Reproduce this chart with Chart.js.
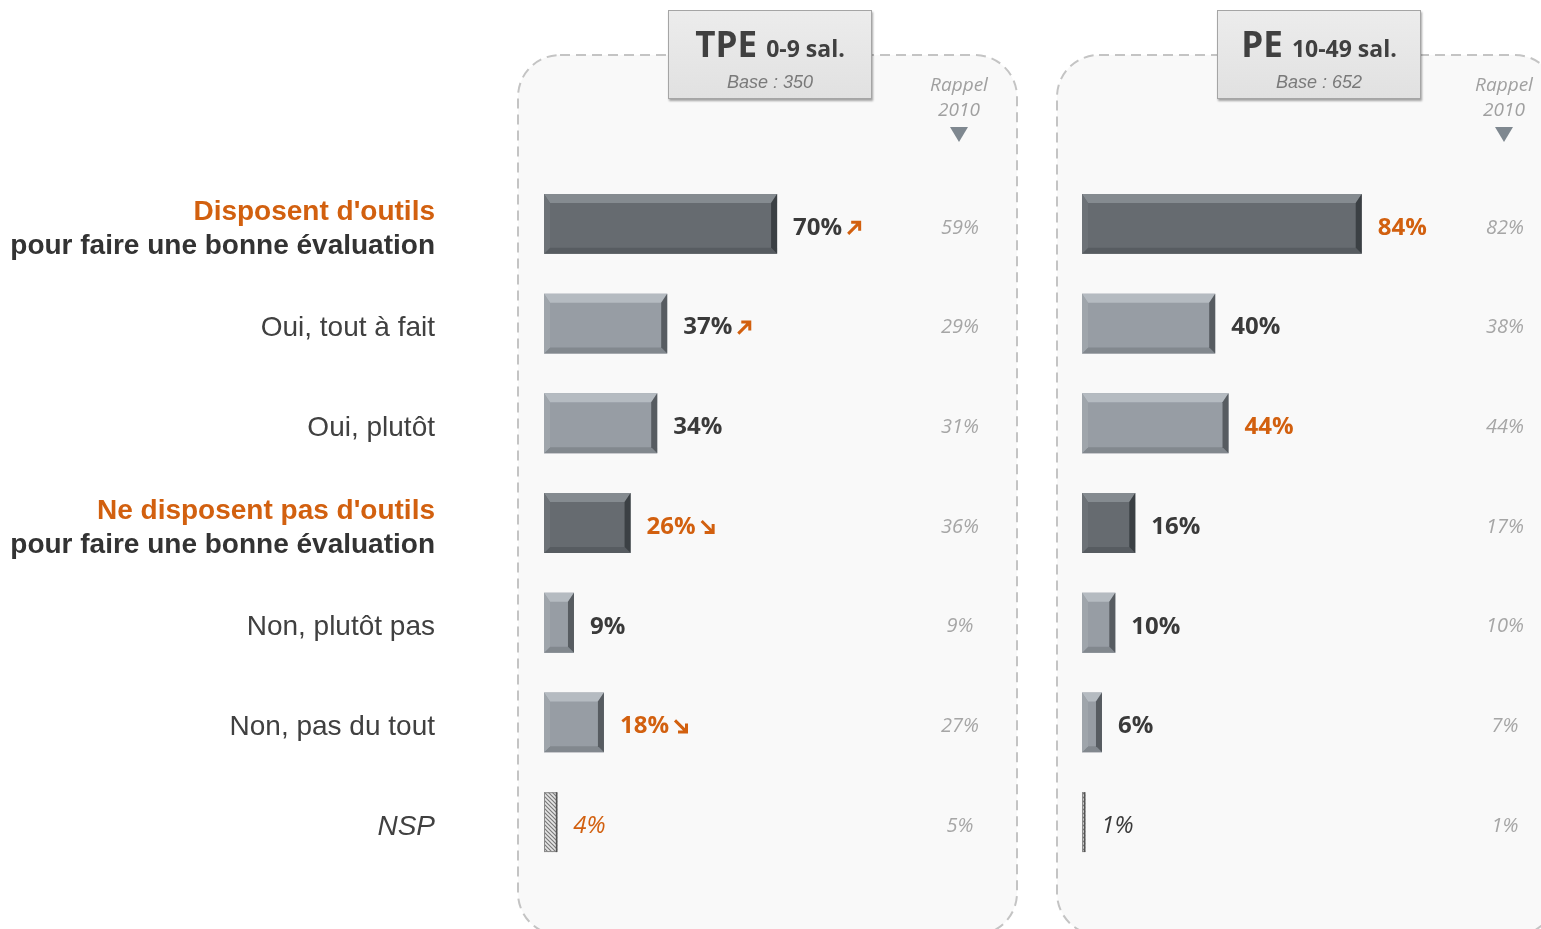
<!DOCTYPE html>
<html><head><meta charset="utf-8">
<script src="https://cdn.jsdelivr.net/npm/chart.js@4/dist/chart.umd.min.js"></script>
<style>
html,body{margin:0;padding:0;background:#fff;width:1541px;height:929px;overflow:hidden;position:relative;font-family:"Liberation Sans",Arial,sans-serif}
canvas{position:absolute;top:0}
#cL{left:0}
#cR{left:1030px}
.hdr{position:absolute;top:10px;width:202px;height:87px;background:linear-gradient(#ececec,#e1e1e1);border:1px solid #a5a5a5;box-shadow:1px 2px 2px rgba(0,0,0,0.35);text-align:center;z-index:2}
.hdr .t{position:absolute;left:0;right:0;top:13px;font-family:"Open Sans";font-weight:bold;color:#404040;font-size:35px;line-height:40px;white-space:nowrap}
.hdr .t span{font-size:23px}
.hdr .b{position:absolute;left:0;right:0;top:60px;font-style:italic;color:#7a7a7a;font-size:18px;line-height:22px}
.rap{position:absolute;top:72px;width:90px;text-align:center;font-family:"Open Sans";font-style:italic;color:#a0a0a0;font-size:19px;line-height:25px;z-index:2}
.tri{width:0;height:0;border-left:9px solid transparent;border-right:9px solid transparent;border-top:15px solid #7f8890;margin:5px auto 0}
</style>
</head>
<body>
<canvas id="cL" width="1030" height="929"></canvas>
<canvas id="cR" width="511" height="929"></canvas>
<div class="hdr" style="left:668px"><div class="t">TPE <span>0-9 sal.</span></div><div class="b">Base : 350</div></div>
<div class="hdr" style="left:1217px"><div class="t">PE <span>10-49 sal.</span></div><div class="b">Base : 652</div></div>
<div class="rap" style="left:914px">Rappel<br>2010<div class="tri"></div></div>
<div class="rap" style="left:1459px">Rappel<br>2010<div class="tri"></div></div>
<script>
// ---- data ----
const categories = [
  ["Disposent d'outils", "pour faire une bonne évaluation"],
  ["Oui, tout à fait"],
  ["Oui, plutôt"],
  ["Ne disposent pas d'outils", "pour faire une bonne évaluation"],
  ["Non, plutôt pas"],
  ["Non, pas du tout"],
  ["NSP"]
];
const rowType = ["total", "detail", "detail", "total", "detail", "detail", "nsp"];
const tpe2013 = [70, 37, 34, 26, 9, 18, 4];
const tpe2010 = [59, 29, 31, 36, 9, 27, 5];
const tpeTrend = ["up", "up", "", "down", "", "down", ""];
const tpeHighlight = [false, false, false, true, false, true, true];
const pe2013 = [84, 40, 44, 16, 10, 6, 1];
const pe2010 = [82, 38, 44, 17, 10, 7, 1];
const peTrend = ["", "", "", "", "", "", ""];
const peHighlight = [true, false, true, false, false, false, false];

// ---- styles ----
const ORANGE = "#d2600f";
const DARK_TXT = "#3a3a3a";
const bevelCols = {
  total: {face: "#666b70", top: "#858b90", bot: "#575c61", left: "#6d7277", right: "#3b4044"},
  detail: {face: "#979da4", top: "#b5bbc1", bot: "#82888e", left: "#9fa5ab", right: "#575c61"}
};

function makePattern() {
  const c = document.createElement('canvas');
  c.width = 4; c.height = 4;
  const x = c.getContext('2d');
  x.fillStyle = "#e6e6e6"; x.fillRect(0, 0, 4, 4);
  x.strokeStyle = "#7a7a7a"; x.lineWidth = 1.2;
  x.beginPath(); x.moveTo(0, 0); x.lineTo(4, 4); x.moveTo(-1, 3); x.lineTo(1, 5); x.moveTo(3, -1); x.lineTo(5, 1); x.stroke();
  return x.createPattern(c, 'repeat');
}
const pattern = makePattern();
const barColors = rowType.map(t => t === "nsp" ? pattern : bevelCols[t].face);

function poly(ctx, pts, col) {
  ctx.beginPath();
  ctx.moveTo(pts[0][0], pts[0][1]);
  for (let i = 1; i < pts.length; i++) ctx.lineTo(pts[i][0], pts[i][1]);
  ctx.closePath();
  ctx.fillStyle = col; ctx.fill();
}

function drawArrow(ctx, ax, ay, dir) {
  ctx.save();
  ctx.strokeStyle = ORANGE; ctx.lineWidth = 3; ctx.lineCap = "butt";
  ctx.beginPath();
  if (dir === "up") {
    ctx.moveTo(ax, ay + 6); ctx.lineTo(ax + 11, ay - 5);
    ctx.moveTo(ax + 3, ay - 5.5); ctx.lineTo(ax + 11.5, ay - 5.5); ctx.lineTo(ax + 11.5, ay + 3);
  } else {
    ctx.moveTo(ax, ay - 6); ctx.lineTo(ax + 11, ay + 5);
    ctx.moveTo(ax + 3, ay + 5.5); ctx.lineTo(ax + 11.5, ay + 5.5); ctx.lineTo(ax + 11.5, ay - 3);
  }
  ctx.stroke();
  ctx.restore();
}

function makeChart(id, cfg) {
  const panelPlugin = {
    id: 'panel',
    beforeDraw(chart) {
      const ctx = chart.ctx;
      ctx.save();
      ctx.beginPath();
      ctx.roundRect(cfg.panel.x, 55, cfg.panel.w, 880, 42);
      ctx.fillStyle = "#f9f9f9"; ctx.fill();
      ctx.setLineDash([10, 6]);
      ctx.strokeStyle = "#c4c4c4"; ctx.lineWidth = 2;
      ctx.stroke();
      ctx.restore();
    }
  };
  const decoPlugin = {
    id: 'deco',
    afterDatasetsDraw(chart) {
      const ctx = chart.ctx;
      const meta = chart.getDatasetMeta(0);
      ctx.save();
      meta.data.forEach((bar, i) => {
        const x0 = bar.base, x1 = bar.x, yt = bar.y - bar.height / 2, yb = bar.y + bar.height / 2;
        const type = rowType[i];
        if (type === "nsp") {
          ctx.strokeStyle = "#8a8a8a"; ctx.lineWidth = 1;
          ctx.strokeRect(x0 + 0.5, yt + 0.5, x1 - x0 - 1, yb - yt - 1);
          ctx.fillStyle = "#555"; ctx.fillRect(x1 - 1.5, yt, 1.5, yb - yt);
        } else {
          const c = bevelCols[type];
          const w = x1 - x0;
          const bT = Math.min(9, w / 2 - 1), bB = Math.min(6, w / 2 - 1), bL = Math.min(6, w / 3), bR = Math.min(6, w / 3);
          const ix0 = x0 + bL, ix1 = x1 - bR, iyt = yt + bT, iyb = yb - bB;
          poly(ctx, [[x0, yt], [x1, yt], [ix1, iyt], [ix0, iyt]], c.top);
          poly(ctx, [[x0, yb], [x1, yb], [ix1, iyb], [ix0, iyb]], c.bot);
          poly(ctx, [[x0, yt], [ix0, iyt], [ix0, iyb], [x0, yb]], c.left);
          poly(ctx, [[x1, yt], [ix1, iyt], [ix1, iyb], [x1, yb]], c.right);
        }
        // value label
        const italic = type === "nsp";
        ctx.font = (italic ? "italic " : "bold ") + "24px 'Open Sans'";
        ctx.fillStyle = cfg.highlight[i] ? ORANGE : DARK_TXT;
        ctx.textAlign = "left"; ctx.textBaseline = "middle";
        const lx = x1 + 16, ly = bar.y + 4;
        const txt = cfg.values[i] + "%";
        ctx.fillText(txt, lx, ly);
        if (cfg.trend[i]) drawArrow(ctx, lx + ctx.measureText(txt).width + 6, bar.y + 4, cfg.trend[i]);
        // rappel 2010
        ctx.font = "italic 20px 'Open Sans'";
        ctx.fillStyle = "#a6a6a6"; ctx.textAlign = "center";
        ctx.fillText(cfg.rappel[i] + "%", cfg.rappelX, ly);
        // category labels
        if (cfg.showCats) {
          const lines = categories[i];
          ctx.textAlign = "right";
          if (lines.length === 2) {
            ctx.font = "bold 28px 'Liberation Sans'";
            ctx.fillStyle = ORANGE; ctx.fillText(lines[0], 435, bar.y - 12);
            ctx.fillStyle = "#333333"; ctx.fillText(lines[1], 435, bar.y + 22);
          } else {
            ctx.font = (italic ? "italic " : "") + "28px 'Liberation Sans'";
            ctx.fillStyle = "#404040";
            ctx.fillText(lines[0], 435, bar.y + 5);
          }
        }
      });
      ctx.restore();
    }
  };
  return new Chart(document.getElementById(id), {
    type: 'bar',
    data: {
      labels: categories.map(l => l.join(" ")),
      datasets: [{data: cfg.values, backgroundColor: barColors, borderWidth: 0, categoryPercentage: 0.6, barPercentage: 1}]
    },
    options: {
      indexAxis: 'y', responsive: false, animation: false, devicePixelRatio: 1,
      layout: {padding: {left: cfg.padL, right: cfg.padR, top: 174, bottom: 57}},
      scales: {x: {display: false, min: 0, max: 100}, y: {display: false}},
      plugins: {legend: {display: false}, tooltip: {enabled: false}}
    },
    plugins: [panelPlugin, decoPlugin]
  });
}

makeChart('cL', {values: tpe2013, rappel: tpe2010, trend: tpeTrend, highlight: tpeHighlight,
  padL: 544, padR: 153, rappelX: 960, panel: {x: 518, w: 499}, showCats: true});
makeChart('cR', {values: pe2013, rappel: pe2010, trend: peTrend, highlight: peHighlight,
  padL: 52, padR: 126, rappelX: 475, panel: {x: 27, w: 500}, showCats: false});
</script>
</body></html>
